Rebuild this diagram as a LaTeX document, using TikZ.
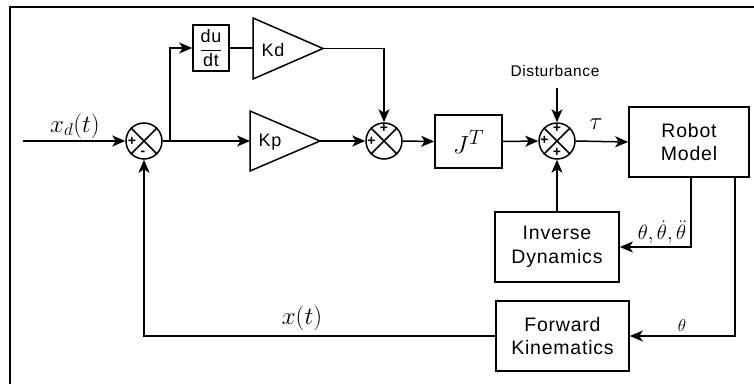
\documentclass[tikz,border=0pt]{standalone}
\usepackage{amsmath}
\usepackage{fontspec}
\setmainfont{Liberation Sans}
\newfontfamily\lsans[LetterSpace=4]{Liberation Sans}
\usetikzlibrary{arrows.meta,calc}
\begin{document}
\begin{tikzpicture}[x=1pt,y=-1pt,
  blk/.style={draw, line width=1.7pt, align=center, inner sep=0pt,
    font=\lsans\fontsize{19.5}{23.5}\selectfont},
  sumc/.style={draw, circle, line width=1.5pt, minimum size=36pt, inner sep=0pt},
  conn/.style={line width=1.5pt, -{Stealth[length=13pt,width=11pt,inset=3.5pt]}},
  wire/.style={line width=1.5pt},
  tri/.style={line width=1.5pt, line join=miter},
  sgn/.style={font=\fontsize{14}{14}\selectfont\bfseries, inner sep=0pt},
  mlab/.style={inner sep=0pt},
  ]
\useasboundingbox (0,0) rectangle (754,383);
% frame
\draw[line width=2pt] (10,6.5) rectangle (775,400);

% summing junctions
\node[sumc] (s1) at (144,141) {};
\node[sumc] (s2) at (384,141) {};
\node[sumc] (s3) at (557,141) {};
\foreach \s in {s1,s2,s3}{
  \draw[wire] (\s.45) -- (\s.225);
  \draw[wire] (\s.135) -- (\s.315);
}
\node[sgn] (s1p) at ($(s1.center)+(-12,0.5)$) {+};
\node[sgn] (s1m) at ($(s1.center)+(-1,12)$) {-};
\node[sgn] (s2t) at ($(s2.center)+(0,-12.5)$) {+};
\node[sgn] (s2l) at ($(s2.center)+(-12.5,0)$) {+};
\node[sgn] (s3t) at ($(s3.center)+(0,-12.5)$) {+};
\node[sgn] (s3l) at ($(s3.center)+(-12.5,-0.5)$) {+};
\node[sgn] (s3b) at ($(s3.center)+(0,11.5)$) {+};

% blocks
\node[blk, minimum width=36pt, minimum height=46pt, font=\lsans\fontsize{18}{18}\selectfont] (ddt) at (211,48)
  {$\dfrac{\mbox{du}}{\mbox{dt}}$};
\node[blk, minimum width=67pt, minimum height=53pt] (jt) at (468.5,141.5)
  {\fontsize{32}{32}\selectfont$J^T$};
\node[blk, minimum width=120pt, minimum height=70pt] (robot) at (689,142) {Robot\\Model};
\node[blk, minimum width=124pt, minimum height=70pt] (invdyn) at (557,247) {Inverse\\Dynamics};
\node[blk, minimum width=133pt, minimum height=70pt] (fwdkin) at (562.5,336) {Forward\\Kinematics};

% gain triangles
\draw[tri] (253,18) -- (323,48.5) -- (253,79) -- cycle;
\coordinate (kdin) at (253,48);
\coordinate (kdout) at (323,48.5);
\node[font=\lsans\fontsize{18}{18}\selectfont] (kd) at (273,50) {Kd};
\draw[tri] (250,111) -- (320,141) -- (250,171) -- cycle;
\coordinate (kpin) at (250,141);
\coordinate (kpout) at (320,141);
\node[font=\lsans\fontsize{18}{18}\selectfont] (kp) at (270,142) {Kp};

% auxiliary points
\coordinate (in) at (23,141);
\coordinate (branch) at (170,141);
\coordinate (dtop) at (557,88);
\coordinate (r1) at ([xshift=2pt]robot.south);
\coordinate (r2) at ([xshift=46pt]robot.south);

% labels
\node[mlab, font=\fontsize{25}{25}\selectfont] (xdl) at (75,126) {$x_d(t)$};
\node[mlab, font=\fontsize{30}{30}\selectfont] (taul) at (596,124) {$\tau$};
\node[mlab, font=\lsans\fontsize{15.5}{15.5}\selectfont] (dist) at (555,71) {Disturbance};
\node[mlab, font=\fontsize{21}{21}\selectfont] (thl3) at (662,232) {$\theta,\dot\theta,\ddot\theta$};
\node[mlab, font=\fontsize{17}{17}\selectfont] (thl1) at (682,325) {$\theta$};
\node[mlab, font=\fontsize{25}{25}\selectfont] (xl) at (302,318) {$x(t)$};

% connectors
\draw[conn] (in) -- (s1.west);
\draw[conn] (s1.east) -- (kpin);
\draw[conn] (branch) |- (ddt.west);
\draw[wire] (ddt.east) -- (kdin);
\draw[conn] (kdout) -| (s2.north);
\draw[conn] (kpout) -- (s2.west);
\draw[conn] (s2.east) -- (jt.west);
\draw[conn] (jt.east) -- (s3.west);
\draw[conn] (dtop) -- (s3.north);
\draw[conn] (s3.east) -- (robot.west);
\draw[conn] (invdyn.north) -- (s3.south);
\draw[conn] (r1) |- (invdyn.east);
\draw[conn] (r2) |- (fwdkin.east);
\draw[conn] (fwdkin.west) -| (s1.south);
\end{tikzpicture}
\end{document}
